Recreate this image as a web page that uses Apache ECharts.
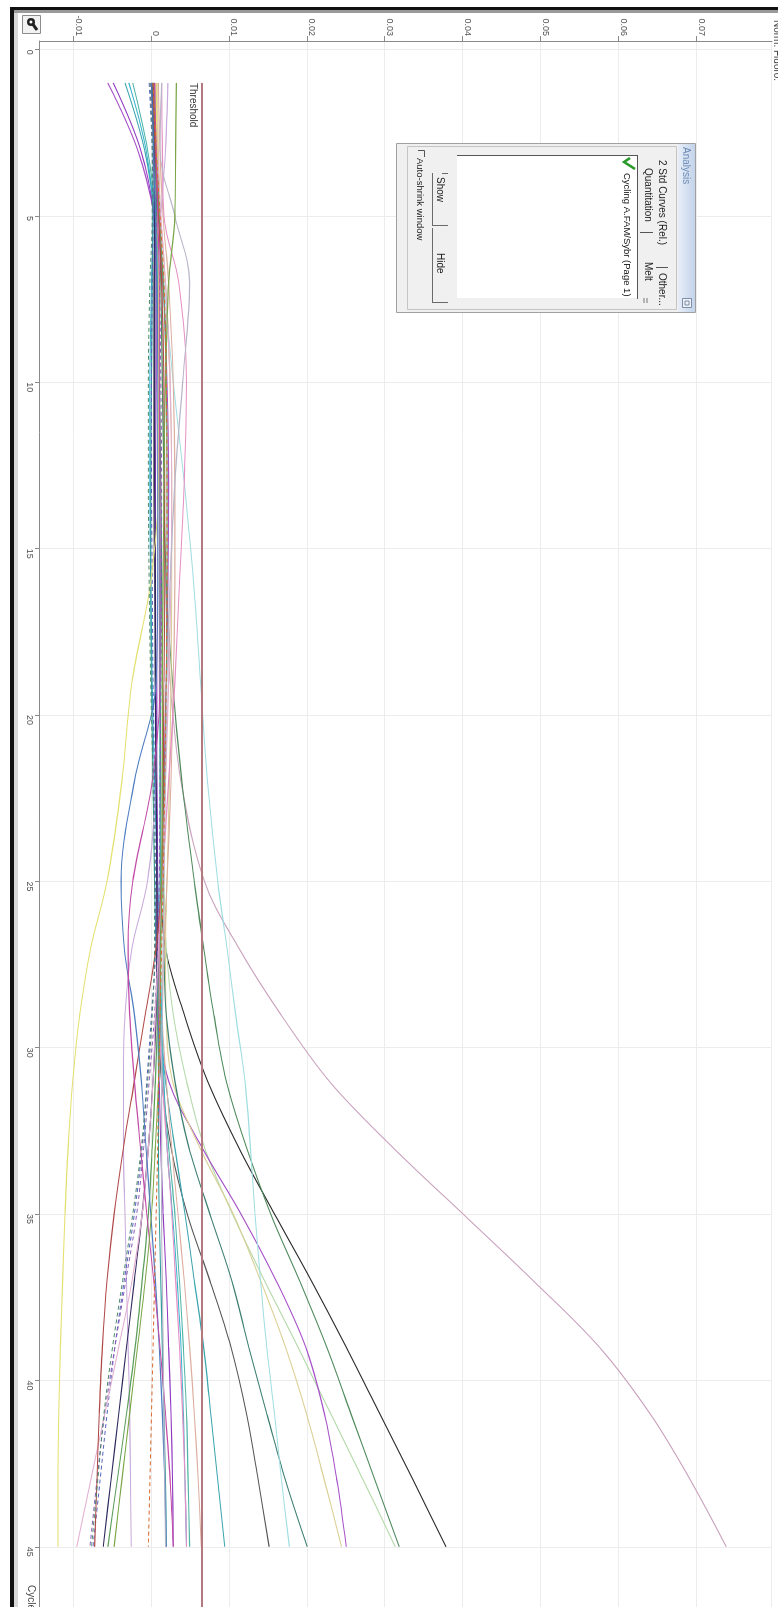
<!DOCTYPE html>
<html>
<head>
<meta charset="utf-8">
<title>Cycling A.FAM/Sybr</title>
<script src="https://cdn.jsdelivr.net/npm/echarts@6.0.0/dist/echarts.min.js"></script>
<style>
  html, body { margin: 0; padding: 0; background: #fff; overflow: hidden; width: 778px; height: 1607px; }
  /* the screenshot is turned a quarter turn clockwise, so draw upright and rotate */
  #main { position: absolute; left: 0; top: 0; width: 1607px; height: 778px;
          transform-origin: 0 0; transform: translateX(778px) rotate(90deg); }
</style>
</head>
<body>
<div id="main"></div>
<script>
  var cycles = [1, 3, 5, 7, 10, 13, 16, 19, 22, 25, 27, 29, 31, 33, 35, 37, 39, 41, 43, 45];
  var threshold = 0.0065;
  var cycleRange = [-0.26, 46.81];
  var fluoroRange = [-0.01431, 0.07966];

  // normalised fluorescence per well
  var w01 = [0.0006, 0.0008, 0.0011, 0.0014, 0.0015, 0.0016, 0.0018, 0.0024, 0.0038, 0.0068, 0.0112, 0.0166, 0.0228, 0.031, 0.04, 0.049, 0.0575, 0.064, 0.0692, 0.0738];
  var w02 = [0.0001, 0.0004, 0.0006, 0.0008, 0.0009, 0.001, 0.0011, 0.0011, 0.0012, 0.0012, 0.0018, 0.0042, 0.0072, 0.0112, 0.0158, 0.0205, 0.025, 0.0293, 0.0336, 0.0378];
  var w03 = [0.0004, 0.0007, 0.001, 0.0012, 0.0014, 0.0016, 0.0019, 0.0027, 0.0039, 0.0055, 0.0067, 0.008, 0.0096, 0.0122, 0.0153, 0.019, 0.0225, 0.0256, 0.0287, 0.0318];
  var w04 = [0.0002, 0.0004, 0.0006, 0.0009, 0.0011, 0.0012, 0.0013, 0.0014, 0.0015, 0.0016, 0.0019, 0.0028, 0.0045, 0.0068, 0.0104, 0.0145, 0.0188, 0.023, 0.0272, 0.0313];
  var w05 = [-0.0056, -0.0018, 0.0004, 0.0015, 0.002, 0.0022, 0.0021, 0.0019, 0.0016, 0.0013, 0.0011, 0.0011, 0.0022, 0.0065, 0.0115, 0.016, 0.0198, 0.0222, 0.0238, 0.025];
  var w06 = [0.0008, 0.0009, 0.0012, 0.0018, 0.0024, 0.0026, 0.0026, 0.0025, 0.0023, 0.002, 0.0018, 0.0019, 0.0027, 0.0062, 0.0105, 0.014, 0.0172, 0.0199, 0.0222, 0.0244];
  var w07 = [0.0002, 0.0005, 0.0007, 0.0009, 0.001, 0.0012, 0.0013, 0.0014, 0.0015, 0.0015, 0.0016, 0.0019, 0.003, 0.0048, 0.0075, 0.0103, 0.0125, 0.0148, 0.0172, 0.02];
  var w08 = [0.0004, 0.0006, 0.001, 0.0016, 0.0028, 0.0042, 0.0054, 0.0063, 0.0072, 0.0085, 0.0097, 0.0108, 0.012, 0.0127, 0.0133, 0.014, 0.0148, 0.0158, 0.0167, 0.0177];
  var w09 = [0.0003, 0.0004, 0.0004, 0.0003, 0.0003, 0.0003, 0.0004, 0.0005, 0.0006, 0.0007, 0.0008, 0.001, 0.0013, 0.0025, 0.0046, 0.0075, 0.0102, 0.0122, 0.0137, 0.0151];
  var w10 = [-0.0034, -0.0009, 0.0004, 0.0008, 0.0009, 0.001, 0.0011, 0.0011, 0.0011, 0.0011, 0.001, 0.001, 0.0018, 0.003, 0.0043, 0.0055, 0.0067, 0.0076, 0.0085, 0.0094];
  var w11 = [0.0009, 0.0011, 0.0015, 0.0022, 0.0028, 0.003, 0.003, 0.0028, 0.0025, 0.002, 0.0016, 0.0014, 0.0019, 0.0026, 0.0034, 0.0042, 0.0049, 0.0055, 0.006, 0.0064];
  var w12 = [-0.0024, -0.0005, 0.0005, 0.0008, 0.0009, 0.001, 0.001, 0.0011, 0.0011, 0.0012, 0.0012, 0.0012, 0.0015, 0.0022, 0.003, 0.0036, 0.0041, 0.0045, 0.0047, 0.0049];
  var w13 = [-0.0029, -0.0007, 0.0002, 0.0, -0.0002, -0.0002, -0.0001, 0.0001, 0.0004, 0.0008, 0.0011, 0.0013, 0.0016, 0.002, 0.0027, 0.0033, 0.0038, 0.0041, 0.0043, 0.0045];
  var w14 = [-0.0049, -0.0014, 0.0003, 0.0006, 0.0006, 0.0005, 0.0005, 0.0006, 0.0007, 0.0008, 0.0008, 0.0009, 0.001, 0.0012, 0.0015, 0.0019, 0.0022, 0.0025, 0.0027, 0.0028];
  var w15 = [0.0001, 0.0002, 0.0002, 0.0001, 0.0, -0.0001, -0.0001, 0.0, 0.0002, 0.0004, 0.0006, 0.0008, 0.0009, 0.0009, 0.001, 0.0012, 0.0014, 0.0016, 0.0018, 0.0019];
  var w16 = [0.0021, 0.0018, 0.0012, 0.001, 0.0009, 0.0008, 0.0008, 0.0008, 0.0006, -0.0005, -0.0025, -0.0034, -0.0036, -0.0036, -0.0034, -0.0032, -0.003, -0.0028, -0.0027, -0.0026];
  var w17 = [0.0003, 0.0006, 0.001, 0.0015, 0.0019, 0.002, 0.002, 0.0019, 0.0017, 0.0014, 0.0011, 0.0008, 0.0005, 0.0001, -0.0004, -0.0012, -0.0021, -0.0032, -0.0044, -0.0056];
  var w18 = [0.0, 0.0003, 0.0004, 0.0004, 0.0004, 0.0004, 0.0005, 0.0005, 0.0006, 0.0007, 0.0007, 0.0006, 0.0002, -0.0004, -0.0012, -0.0022, -0.0032, -0.0042, -0.0052, -0.0062];
  var w19 = [-0.0003, 0.0001, 0.0002, 0.0001, 0.0, 0.0, 0.0001, 0.0002, 0.0004, 0.0005, 0.0005, 0.0, -0.0006, -0.0012, -0.0022, -0.0035, -0.0047, -0.0057, -0.0066, -0.0075];
  var w20 = [-0.0001, 0.0002, 0.0006, 0.001, 0.0012, 0.0013, 0.0013, 0.0012, 0.0011, 0.001, 0.0008, 0.0004, -0.0003, -0.001, -0.0019, -0.0033, -0.0047, -0.006, -0.007, -0.0079];
  var w21 = [0.0005, 0.0008, 0.0012, 0.0018, 0.0024, 0.0026, 0.0025, 0.0022, 0.0018, 0.0013, 0.0009, 0.0005, 0.0002, -0.0004, -0.0012, -0.0025, -0.0042, -0.006, -0.0078, -0.0096];
  var w22 = [0.0006, 0.0007, 0.0008, 0.0009, 0.0009, 0.0009, -0.0001, -0.0025, -0.0038, -0.0057, -0.0078, -0.0092, -0.0101, -0.0107, -0.0111, -0.0114, -0.0117, -0.0119, -0.012, -0.012];
  var w23 = [0.0002, 0.0005, 0.0009, 0.0013, 0.0016, 0.0017, 0.0017, 0.0016, 0.0015, 0.0013, 0.0006, -0.0008, -0.0022, -0.0036, -0.0048, -0.0057, -0.0063, -0.0067, -0.007, -0.0073];
  var w24 = [0.0, 0.0003, 0.0005, 0.0007, 0.0008, 0.0008, 0.0008, 0.0006, -0.0022, -0.0039, -0.0035, -0.0022, -0.0013, -0.0007, -0.0001, 0.0005, 0.001, 0.0014, 0.0017, 0.0019];
  var w25 = [0.0004, 0.0006, 0.0008, 0.001, 0.001, 0.0011, 0.0011, 0.0011, 0.0001, -0.0024, -0.003, -0.0028, -0.0022, -0.0014, -0.0006, 0.0003, 0.0011, 0.0018, 0.0024, 0.0028];
  var w26 = [0.0013, 0.0014, 0.0016, 0.0035, 0.0045, 0.0042, 0.0036, 0.003, 0.0022, 0.0014, 0.001, 0.001, 0.0014, 0.002, 0.0026, 0.0031, 0.0036, 0.004, 0.0043, 0.0045];
  var w27 = [0.0013, 0.0011, 0.003, 0.0049, 0.004, 0.003, 0.0024, 0.002, 0.0018, 0.0016, 0.0015, 0.0014, 0.0013, 0.0013, 0.0013, 0.0014, 0.0015, 0.0016, 0.0017, 0.0018];
  var w28 = [0.0032, 0.0031, 0.003, 0.0022, 0.0018, 0.0016, 0.0015, 0.0014, 0.0014, 0.0013, 0.0012, 0.0011, 0.0009, 0.0005, 0.0, -0.0008, -0.0018, -0.0028, -0.0038, -0.0048];
  var w29 = [0.0002, 0.0006, 0.0011, 0.0016, 0.0019, 0.002, 0.002, 0.0019, 0.0017, 0.0015, 0.0013, 0.0011, 0.0009, 0.0008, 0.0006, 0.0004, 0.0002, 0.0, -0.0002, -0.0004];
  var w30 = [-0.0002, 0.0001, 0.0001, -0.0002, -0.0004, -0.0004, -0.0003, -0.0001, 0.0002, 0.0004, 0.0004, 0.0001, -0.0005, -0.0013, -0.0024, -0.0037, -0.005, -0.0061, -0.0069, -0.0077];

  var wells = [w01, w02, w03, w04, w05, w06, w07, w08, w09, w10, w11, w12, w13, w14, w15,
               w16, w17, w18, w19, w20, w21, w22, w23, w24, w25, w26, w27, w28, w29, w30];

  var lineColors = ['#c9a3bd', '#2b2b2b', '#4e8a5c', '#b3d9a8', '#a650c8', '#d9cf94', '#3c7f70', '#9fdde0',
                    '#555555', '#3ba5ae', '#dcae9f', '#4fb5a5', '#36b3cc', '#9038c0', '#2a9a9a', '#c8aadc',
                    '#5b9d5b', '#2d2a5e', '#5a62c0', '#8a5cb8', '#e2aed0', '#e3e06e', '#b04848', '#4d7cbf',
                    '#c24aa6', '#e58fc4', '#b9b6c9', '#7aa646', '#d8682e', '#4a8a6a'];
  var dashedWells = [18, 19, 28, 29];

  var font = 'Liberation Sans, Arial, sans-serif';
  var myChart = echarts.init(document.getElementById('main'));

  var series = wells.map(function (w, i) {
    var dashed = dashedWells.indexOf(i) >= 0;
    return {
      type: 'line',
      data: cycles.map(function (c, j) { return [c, w[j]]; }),
      smooth: 0.35,
      showSymbol: false,
      silent: true,
      lineStyle: { color: lineColors[i], width: dashed ? 1 : 1.1, type: dashed ? [4, 3] : 'solid' }
    };
  });
  series.push({
    name: 'Threshold',
    type: 'line',
    data: [[cycles[0], threshold], [cycleRange[1], threshold]],
    showSymbol: false,
    silent: true,
    z: 5,
    lineStyle: { color: '#b27a7e', width: 2 }
  });

  // small helpers for the window chrome
  function txt(x, y, s, size, color, extra) {
    var st = { text: s, x: x, y: y, fill: color || '#222', font: (size || 10) + 'px ' + font, verticalAlign: 'middle' };
    if (extra) for (var k in extra) st[k] = extra[k];
    return { type: 'text', z: 100, style: st };
  }
  function ln(x1, y1, x2, y2, color, w) {
    return { type: 'line', z: 100, shape: { x1: x1, y1: y1, x2: x2, y2: y2 }, style: { stroke: color, lineWidth: w || 1 } };
  }
  function rc(x, y, w, h, fill, stroke) {
    return { type: 'rect', z: 100, shape: { x: x, y: y, width: w, height: h }, style: { fill: fill, stroke: stroke || null, lineWidth: 1 } };
  }

  var chrome = [
    // screenshot frame
    rc(7, 0, 3, 768, '#111'),
    rc(10, 0, 3, 765, '#9a9a9a'),
    rc(7, 764, 1600, 4, '#111'),
    rc(13, 760, 1594, 4, '#d8d8d8'),
    // options button in the corner
    rc(15.5, 737.5, 18, 18, '#f2f2f2', '#8c8c8c'),
    { type: 'circle', z: 101, shape: { cx: 22, cy: 747, r: 4 }, style: { fill: '#222' } },
    ln(23, 746, 30, 741, '#222', 3),
    { type: 'circle', z: 102, shape: { cx: 22, cy: 747, r: 1.5 }, style: { fill: '#fff' } },
    // axis names, cut by the screenshot edge
    txt(20, 6, 'Norm. Fluoro.', 10, '#444', { verticalAlign: 'bottom' }),
    txt(1585, 747, 'Cycle', 10, '#444'),

    // Analysis window
    rc(143.5, 82.5, 169, 299, '#f0f0f0', '#a0a0a0'),
    { type: 'rect', z: 100, shape: { x: 144, y: 83, width: 168, height: 17 },
      style: { fill: new echarts.graphic.LinearGradient(0, 0, 0, 1, [{ offset: 0, color: '#c3d3ea' }, { offset: 1, color: '#e7eef8' }]) } },
    txt(147, 92, 'Analysis', 10, '#6d8cb6'),
    rc(298.5, 86.5, 9, 9, '#eef2f8', '#7d8ea6'),
    rc(301, 89, 4, 4, null, '#7d8ea6'),
    rc(146.5, 101.5, 163, 269, null, '#c4c4c4'),
    txt(160, 116, '2 Std Curves (Rel.)', 10, '#222'),
    ln(267.5, 110, 267.5, 122, '#555'),
    txt(273, 116, 'Other...', 10, '#222'),
    txt(168, 130, 'Quantitation', 10, '#222'),
    ln(232.5, 125, 232.5, 138, '#555'),
    txt(262, 130, 'Melt', 10, '#222'),
    ln(298, 131, 303, 131, '#777'),
    ln(298, 134, 303, 134, '#777'),
    rc(155, 140, 143, 181, '#fff'),
    ln(155, 140.5, 299, 140.5, '#555'),
    ln(155.5, 140, 155.5, 321, '#555'),
    { type: 'polyline', z: 101, shape: { points: [[158, 148], [162, 154], [169, 143]] },
      style: { stroke: '#2a9a2a', lineWidth: 2.5, fill: null } },
    txt(173, 151, 'Cycling A.FAM/Sybr (Page 1)', 9.5, '#111', { width: 125, overflow: 'truncate', ellipsis: '' }),
    ln(173, 345.5, 225, 345.5, '#6a6a6a'),
    ln(225.5, 330, 225.5, 346, '#6a6a6a'),
    ln(173.5, 330, 173.5, 336, '#6a6a6a'),
    txt(177, 338, 'Show', 10, '#222'),
    ln(228, 345.5, 302, 345.5, '#6a6a6a'),
    ln(302.5, 330, 302.5, 346, '#6a6a6a'),
    txt(253, 338, 'Hide', 10, '#222'),
    { type: 'polyline', z: 101, shape: { points: [[150.5, 360], [150.5, 353.5], [157, 353.5]] },
      style: { stroke: '#555', lineWidth: 1, fill: null } },
    txt(158, 358, 'Auto-shrink window', 9.5, '#222')
  ];

  var option = {
    animation: false,
    backgroundColor: '#fff',
    textStyle: { fontFamily: font },
    grid: { left: 41, right: 0, top: 6, bottom: 40 },
    xAxis: {
      type: 'value',
      min: cycleRange[0],
      max: cycleRange[1],
      minInterval: 5,
      maxInterval: 5,
      axisLine: { onZero: false, lineStyle: { color: '#8a8a8a' } },
      axisTick: { show: true, length: 5, lineStyle: { color: '#8a8a8a' } },
      axisLabel: { showMinLabel: false, showMaxLabel: false, align: 'left', margin: 6, fontSize: 9, color: '#555',
                   formatter: function (v) { return String(Math.round(v)); } },
      splitLine: { show: true, lineStyle: { color: '#ececec' } }
    },
    yAxis: {
      type: 'value',
      min: fluoroRange[0],
      max: fluoroRange[1],
      minInterval: 0.01,
      maxInterval: 0.01,
      axisLine: { show: true, onZero: false, lineStyle: { color: '#8a8a8a' } },
      axisTick: { show: true, length: 5, lineStyle: { color: '#8a8a8a' } },
      axisLabel: { showMinLabel: false, showMaxLabel: false, verticalAlign: 'bottom', margin: 5, fontSize: 9, color: '#555',
                   formatter: function (v) { return String(+v.toFixed(2)); } },
      splitLine: { show: true, lineStyle: { color: '#ececec' } }
    },
    series: series,
    graphic: { elements: chrome }
  };

  myChart.setOption(option);

  // "Threshold" tag sits just under the start of the threshold line
  var p = myChart.convertToPixel({ gridIndex: 0 }, [cycles[0], threshold]);
  chrome.push(txt(p[0], p[1] + 4, 'Threshold', 10, '#333', { verticalAlign: 'top' }));
  myChart.setOption({ graphic: { elements: chrome } });
</script>
</body>
</html>
